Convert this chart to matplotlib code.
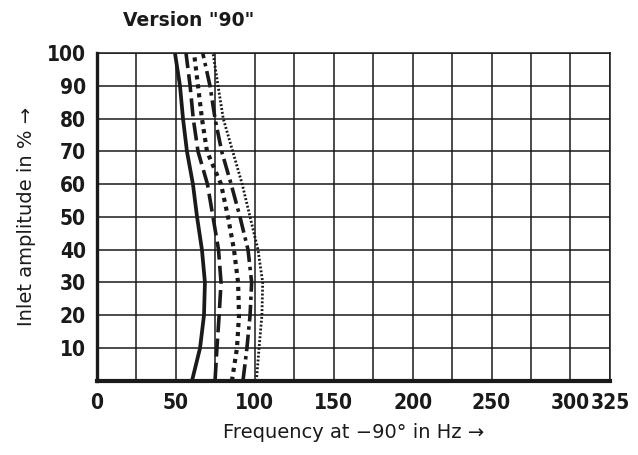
import matplotlib.pyplot as plt
import numpy as np

plt.rcParams['lines.scale_dashes'] = False

# Inlet amplitude levels (%) at which the curves were read
amplitude = [0, 10, 20, 30, 40, 50, 60, 70, 80, 90, 100]

# Frequency at -90 deg (Hz) for each curve, bottom to top
freq_solid = [60.2, 65.3, 67.8, 68.4, 66.5, 63.4, 60.8, 57.0, 54.5, 52.6, 49.4]
freq_dash = [74.8, 76.0, 77.4, 78.6, 77.0, 73.5, 70.0, 64.0, 61.0, 59.0, 56.4]
freq_square_dot = [85.5, 88.7, 90.0, 89.4, 86.8, 83.0, 78.6, 69.7, 66.5, 64.0, 61.5]
freq_dash_dot = [92.5, 95.0, 97.0, 98.0, 95.7, 90.6, 85.0, 79.0, 74.8, 71.6, 67.0]
freq_fine_dot = [101.0, 102.7, 104.5, 105.0, 102.0, 97.0, 92.0, 86.0, 80.0, 76.7, 73.5]

x_ticks = [0, 50, 100, 150, 200, 250, 300, 325]
x_minor = [25, 75, 125, 175, 225, 275]
y_ticks = [10, 20, 30, 40, 50, 60, 70, 80, 90, 100]

fig = plt.figure(figsize=(6.38, 4.55), dpi=100)
ax = fig.add_axes([0.152, 0.163, 0.804, 0.7205])

ax.plot(freq_solid, amplitude, color='#1a1a1a', lw=2.7, solid_capstyle='butt')
ax.plot(freq_dash, amplitude, color='#1a1a1a', lw=2.6, dashes=(13, 4.5))
ax.plot(freq_square_dot, amplitude, color='#1a1a1a', lw=3.0, dashes=(3, 3.5))
ax.plot(freq_dash_dot, amplitude, color='#1a1a1a', lw=2.6, dashes=(12, 3.5, 2.5, 3.5))
ax.plot(freq_fine_dot, amplitude, color='#1a1a1a', lw=2.0, dashes=(1.4, 1.4))

ax.set_xlim(0, 325)
ax.set_ylim(0, 100)
ax.set_xticks(x_ticks)
ax.set_xticks(x_minor, minor=True)
ax.set_yticks(y_ticks)
ax.grid(True, which='both', color='#1a1a1a', lw=1.1)
ax.tick_params(which='both', length=0)
ax.tick_params(axis='x', pad=9)
ax.tick_params(axis='y', pad=8)

for lbl in ax.get_xticklabels() + ax.get_yticklabels():
    lbl.set_fontfamily('DejaVu Sans')
    lbl.set_fontstretch('condensed')
    lbl.set_fontweight('bold')
    lbl.set_fontsize(15)
    lbl.set_color('#1a1a1a')

for side in ['top', 'right']:
    ax.spines[side].set_linewidth(1.1)
ax.spines['left'].set_linewidth(2.4)
ax.spines['bottom'].set_linewidth(3.0)
for sp in ax.spines.values():
    sp.set_color('#1a1a1a')

ax.set_xlabel('Frequency at \u221290\u00b0 in Hz \u2192', fontsize=14,
              family='DejaVu Sans', color='#1a1a1a', labelpad=7)
ax.set_ylabel('Inlet amplitude in % \u2192', fontsize=14,
              family='DejaVu Sans', color='#1a1a1a', labelpad=8)

fig.text(0.193, 0.955, 'Version "90"', fontsize=13.5, fontweight='bold',
         family='DejaVu Sans', color='#1a1a1a', va='center', ha='left')

fig.savefig('out.png', dpi=100, facecolor='white')
